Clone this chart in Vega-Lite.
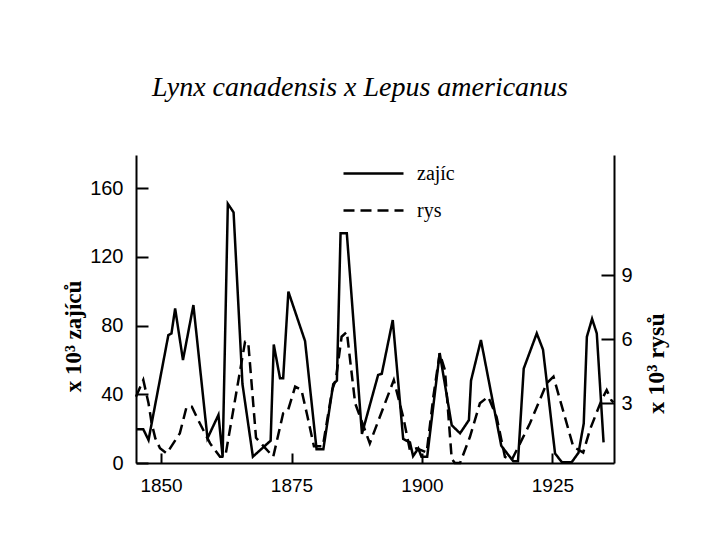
{
  "$schema": "https://vega.github.io/schema/vega-lite/v6.json",
  "width": 478,
  "height": 308,
  "autosize": "none",
  "padding": {"left": 136, "top": 155, "right": 106, "bottom": 77},
  "background": "white",
  "title": {"text": "Lynx canadensis x Lepus americanus", "font": "Liberation Serif", "fontStyle": "italic", "fontWeight": "normal", "fontSize": 28, "color": "black", "offset": 53, "dx": -15, "anchor": "middle"},
  "datasets": {
    "hare": [
      {"year": 1845.2, "value": 19.6, "series": "zajíc"},
      {"year": 1846.6, "value": 19.6, "series": "zajíc"},
      {"year": 1847.6, "value": 13.4, "series": "zajíc"},
      {"year": 1851.4, "value": 74.5, "series": "zajíc"},
      {"year": 1852.0, "value": 75.5, "series": "zajíc"},
      {"year": 1852.7, "value": 90, "series": "zajíc"},
      {"year": 1854.2, "value": 60, "series": "zajíc"},
      {"year": 1856.2, "value": 92, "series": "zajíc"},
      {"year": 1858.9, "value": 14.4, "series": "zajíc"},
      {"year": 1861.0, "value": 28, "series": "zajíc"},
      {"year": 1861.8, "value": 3.7, "series": "zajíc"},
      {"year": 1862.8, "value": 151, "series": "zajíc"},
      {"year": 1863.9, "value": 146, "series": "zajíc"},
      {"year": 1865.6, "value": 46, "series": "zajíc"},
      {"year": 1867.6, "value": 3.7, "series": "zajíc"},
      {"year": 1871.0, "value": 13, "series": "zajíc"},
      {"year": 1871.6, "value": 69, "series": "zajíc"},
      {"year": 1872.8, "value": 49.3, "series": "zajíc"},
      {"year": 1873.4, "value": 49.3, "series": "zajíc"},
      {"year": 1874.4, "value": 99.8, "series": "zajíc"},
      {"year": 1877.6, "value": 71, "series": "zajíc"},
      {"year": 1879.8, "value": 8, "series": "zajíc"},
      {"year": 1881.1, "value": 8, "series": "zajíc"},
      {"year": 1883.0, "value": 46, "series": "zajíc"},
      {"year": 1883.7, "value": 48, "series": "zajíc"},
      {"year": 1884.4, "value": 133.8, "series": "zajíc"},
      {"year": 1885.6, "value": 133.8, "series": "zajíc"},
      {"year": 1888.5, "value": 17, "series": "zajíc"},
      {"year": 1891.6, "value": 51.3, "series": "zajíc"},
      {"year": 1892.3, "value": 52, "series": "zajíc"},
      {"year": 1894.4, "value": 83.3, "series": "zajíc"},
      {"year": 1896.4, "value": 14, "series": "zajíc"},
      {"year": 1897.7, "value": 12, "series": "zajíc"},
      {"year": 1898.3, "value": 4, "series": "zajíc"},
      {"year": 1899.3, "value": 8.5, "series": "zajíc"},
      {"year": 1899.9, "value": 3.7, "series": "zajíc"},
      {"year": 1901.0, "value": 3.7, "series": "zajíc"},
      {"year": 1903.4, "value": 64, "series": "zajíc"},
      {"year": 1905.7, "value": 22, "series": "zajíc"},
      {"year": 1907.3, "value": 17.3, "series": "zajíc"},
      {"year": 1909.0, "value": 25, "series": "zajíc"},
      {"year": 1909.4, "value": 48, "series": "zajíc"},
      {"year": 1911.3, "value": 71.6, "series": "zajíc"},
      {"year": 1915.2, "value": 10, "series": "zajíc"},
      {"year": 1917.5, "value": 1, "series": "zajíc"},
      {"year": 1918.4, "value": 1, "series": "zajíc"},
      {"year": 1919.5, "value": 55, "series": "zajíc"},
      {"year": 1922.0, "value": 75.5, "series": "zajíc"},
      {"year": 1923.2, "value": 66, "series": "zajíc"},
      {"year": 1925.5, "value": 5.6, "series": "zajíc"},
      {"year": 1926.8, "value": 0.5, "series": "zajíc"},
      {"year": 1928.7, "value": 0.5, "series": "zajíc"},
      {"year": 1930.0, "value": 6, "series": "zajíc"},
      {"year": 1931.0, "value": 23, "series": "zajíc"},
      {"year": 1931.6, "value": 73.5, "series": "zajíc"},
      {"year": 1932.6, "value": 84, "series": "zajíc"},
      {"year": 1933.5, "value": 75.5, "series": "zajíc"},
      {"year": 1934.8, "value": 12, "series": "zajíc"}
    ],
    "lynx": [
      {"year": 1845.2, "value": 3.30, "series": "rys"},
      {"year": 1846.6, "value": 4.08, "series": "rys"},
      {"year": 1847.6, "value": 2.99, "series": "rys"},
      {"year": 1848.2, "value": 2.05, "series": "rys"},
      {"year": 1848.9, "value": 1.35, "series": "rys"},
      {"year": 1849.8, "value": 0.88, "series": "rys"},
      {"year": 1851.1, "value": 0.64, "series": "rys"},
      {"year": 1853.6, "value": 1.58, "series": "rys"},
      {"year": 1854.9, "value": 2.83, "series": "rys"},
      {"year": 1855.9, "value": 2.83, "series": "rys"},
      {"year": 1857.1, "value": 2.21, "series": "rys"},
      {"year": 1859.4, "value": 1.11, "series": "rys"},
      {"year": 1861.3, "value": 0.48, "series": "rys"},
      {"year": 1862.3, "value": 0.48, "series": "rys"},
      {"year": 1866.1, "value": 5.87, "series": "rys"},
      {"year": 1866.7, "value": 5.87, "series": "rys"},
      {"year": 1868.2, "value": 1.37, "series": "rys"},
      {"year": 1869.3, "value": 1.07, "series": "rys"},
      {"year": 1871.5, "value": 0.48, "series": "rys"},
      {"year": 1873.4, "value": 2.52, "series": "rys"},
      {"year": 1874.3, "value": 2.64, "series": "rys"},
      {"year": 1875.7, "value": 3.77, "series": "rys"},
      {"year": 1876.9, "value": 3.62, "series": "rys"},
      {"year": 1878.0, "value": 2.44, "series": "rys"},
      {"year": 1879.3, "value": 0.97, "series": "rys"},
      {"year": 1881.0, "value": 0.97, "series": "rys"},
      {"year": 1882.8, "value": 3.62, "series": "rys"},
      {"year": 1883.5, "value": 4.11, "series": "rys"},
      {"year": 1884.6, "value": 6.11, "series": "rys"},
      {"year": 1885.6, "value": 6.34, "series": "rys"},
      {"year": 1887.2, "value": 2.99, "series": "rys"},
      {"year": 1890.0, "value": 1.11, "series": "rys"},
      {"year": 1894.6, "value": 4.08, "series": "rys"},
      {"year": 1896.4, "value": 2.35, "series": "rys"},
      {"year": 1897.7, "value": 0.78, "series": "rys"},
      {"year": 1899.0, "value": 0.88, "series": "rys"},
      {"year": 1900.9, "value": 0.68, "series": "rys"},
      {"year": 1902.2, "value": 3.33, "series": "rys"},
      {"year": 1903.4, "value": 5.34, "series": "rys"},
      {"year": 1904.4, "value": 4.55, "series": "rys"},
      {"year": 1905.7, "value": 0.39, "series": "rys"},
      {"year": 1906.3, "value": 0.19, "series": "rys"},
      {"year": 1907.3, "value": 0.19, "series": "rys"},
      {"year": 1909.2, "value": 1.42, "series": "rys"},
      {"year": 1911.1, "value": 2.99, "series": "rys"},
      {"year": 1912.7, "value": 3.30, "series": "rys"},
      {"year": 1914.3, "value": 2.35, "series": "rys"},
      {"year": 1915.9, "value": 0.48, "series": "rys"},
      {"year": 1917.2, "value": 0.33, "series": "rys"},
      {"year": 1920.7, "value": 2.05, "series": "rys"},
      {"year": 1923.9, "value": 3.92, "series": "rys"},
      {"year": 1925.2, "value": 4.24, "series": "rys"},
      {"year": 1929.0, "value": 0.95, "series": "rys"},
      {"year": 1930.9, "value": 0.68, "series": "rys"},
      {"year": 1932.2, "value": 1.76, "series": "rys"},
      {"year": 1934.4, "value": 3.13, "series": "rys"},
      {"year": 1935.4, "value": 3.61, "series": "rys"},
      {"year": 1936.3, "value": 3.13, "series": "rys"},
      {"year": 1936.7, "value": 3.03, "series": "rys"}
    ]
  },
  "config": {
    "view": {"stroke": null},
    "axis": {"grid": false, "domainColor": "black", "tickColor": "black", "labelColor": "black", "labelFont": "Liberation Sans", "labelFontSize": 20, "domainWidth": 2, "tickWidth": 2, "titleColor": "black", "titleFont": "Liberation Serif", "titleFontWeight": "bold", "titleFontSize": 23}
  },
  "resolve": {"scale": {"y": "independent"}},
  "layer": [
    {
      "data": {"name": "hare"},
      "mark": {"type": "line", "color": "black", "strokeWidth": 2.5},
      "encoding": {
        "x": {"field": "year", "type": "quantitative", "scale": {"domain": [1845.2, 1936.8], "nice": false, "zero": false},
          "axis": {"values": [1850, 1875, 1900, 1925], "format": "d", "title": null, "tickSize": -10, "labelPadding": 23, "labelFontSize": 19}},
        "y": {"field": "value", "type": "quantitative", "scale": {"domain": [0, 179.4], "nice": false},
          "axis": {"orient": "left", "values": [0, 40, 80, 120, 160], "tickSize": -12, "labelPadding": 25, "title": "x 10³ zajíců", "titleAngle": -90, "titleX": -63, "titleY": 181, "titleAlign": "center", "titleBaseline": "middle"}},
        "strokeDash": {"field": "series", "type": "nominal", "scale": {"domain": ["zajíc", "rys"], "range": [[1, 0], [11, 6]]},
          "legend": {"orient": "none", "legendX": 226, "legendY": 7, "title": null, "symbolType": "M-3,0L3,0", "symbolSize": 400, "symbolStrokeWidth": 2.5, "symbolStrokeColor": "black", "labelFont": "Liberation Serif", "labelFontSize": 20, "labelColor": "black", "labelOffset": 32, "rowPadding": 15}}
      }
    },
    {
      "data": {"name": "lynx"},
      "mark": {"type": "line", "color": "black", "strokeWidth": 2.5},
      "encoding": {
        "x": {"field": "year", "type": "quantitative"},
        "y": {"field": "value", "type": "quantitative", "scale": {"domain": [0.19, 14.63], "nice": false, "zero": false},
          "axis": {"orient": "right", "values": [3, 6, 9], "tickSize": -13, "labelPadding": 20, "title": "x 10³ rysů", "titleFontSize": 24, "titleAngle": -90, "titleX": 42, "titleY": 208, "titleAlign": "center", "titleBaseline": "middle"}},
        "strokeDash": {"field": "series", "type": "nominal"}
      }
    }
  ]
}
